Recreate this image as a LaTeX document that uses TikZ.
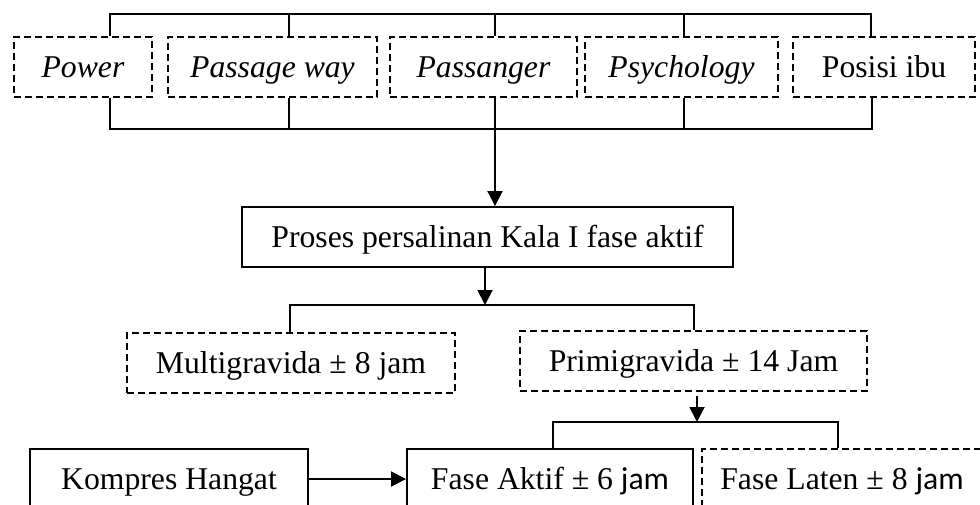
\documentclass[tikz,border=0pt]{standalone}
\usepackage{fontspec}
\setmainfont{Liberation Serif}
\newfontfamily\calfont{Carlito}
\usetikzlibrary{arrows.meta}
\begin{document}
\begin{tikzpicture}[x=1pt,y=-1pt,
  font=\fontsize{31.7}{36}\selectfont,
  box/.style={draw,line width=1.9pt,inner sep=0pt,minimum height=60pt,text height=22pt,text depth=2pt,anchor=center},
  dbox/.style={box,dash pattern=on 7pt off 4pt},
  ln/.style={line width=1.9pt},
  arr/.style={ln,-{Triangle[length=15pt,width=15pt]}}]
\path[use as bounding box] (0,0) rectangle (980,504);
\clip (0,0) rectangle (980,504);
% top row
\node[dbox,minimum width=138pt] (pow)  at (83,67)    {\textit{Power}};
\node[dbox,minimum width=209pt] (pway) at (272.5,67) {\textit{Passage way}};
\node[dbox,minimum width=187pt] (pass) at (483.5,67) {\textit{Passanger}};
\node[dbox,minimum width=193pt] (psy)  at (681.5,67) {\textit{Psychology}};
\node[dbox,minimum width=182pt] (pos)  at (884,67)   {Posisi ibu};
% main
\node[box,minimum width=491pt] (main) at (487.5,237) {Proses persalinan Kala I fase aktif};
% second level
\node[dbox,minimum width=328pt] (multi) at (291,363)   {Multigravida ± 8 jam};
\node[dbox,minimum width=347pt] (primi) at (693.5,361) {Primigravida ± 14 Jam};
% bottom
\node[box,minimum width=278pt]  (komp) at (169,479) {Kompres Hangat};
\node[box,minimum width=286pt]  (akt)  at (550,479) {Fase Aktif ± 6 {\calfont jam}};
\node[dbox,minimum width=280pt] (lat)  at (842,479) {Fase Laten ± 8 {\calfont jam}};
% top bracket
\coordinate (t1) at (110,14);
\coordinate (t2) at (289,14);
\coordinate (t3) at (495,14);
\coordinate (t4) at (684,14);
\coordinate (t5) at (871,14);
\draw[ln] (t1 |- pow.north) -- (t1) -- (t5) -- (t5 |- pos.north);
\draw[ln] (t2) -- (t2 |- pway.north);
\draw[ln] (t3) -- (t3 |- pass.north);
\draw[ln] (t4) -- (t4 |- psy.north);
% bottom bracket
\coordinate (b1) at (110,129);
\coordinate (b2) at (289,129);
\coordinate (b3) at (495,129);
\coordinate (b4) at (684,129);
\coordinate (b5) at (872,129);
\draw[ln] (b1 |- pow.south) -- (b1) -- (b5) -- (b5 |- pos.south);
\draw[ln] (b2 |- pway.south) -- (b2);
\draw[ln] (b3 |- pass.south) -- (b3);
\draw[ln] (b4 |- psy.south) -- (b4);
\draw[arr] (b3) -- (b3 |- main.north);
% main to second level
\coordinate (m) at (485,305);
\coordinate (ml) at (290,305);
\coordinate (mr) at (694,305);
\draw[arr] (main.south -| m) -- (m);
\draw[ln] (ml |- multi.north) -- (ml) -- (mr) -- (mr |- primi.north);
% primi to bottom
\coordinate (p) at (697,422);
\coordinate (pl) at (553,422);
\coordinate (pr) at (838,422);
\draw[arr,shorten <=4pt] (primi.south -| p) -- (p);
\draw[ln] (pl |- akt.north) -- (pl) -- (pr) -- (pr |- lat.north);
\draw[arr] (komp.east) -- (akt.west);
\end{tikzpicture}
\end{document}
